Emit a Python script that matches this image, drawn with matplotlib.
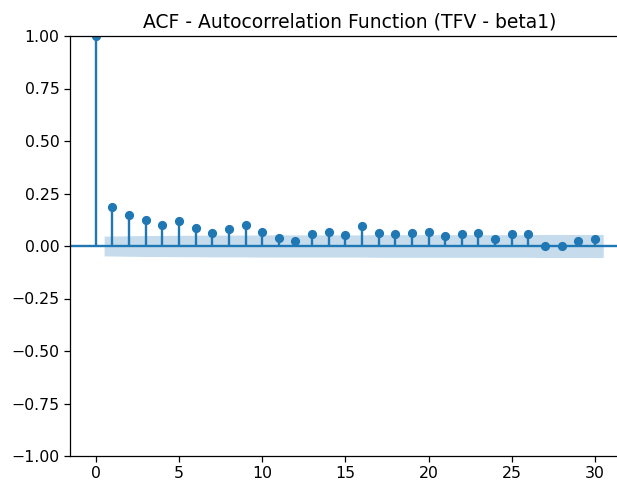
import matplotlib
matplotlib.use("Agg")
import matplotlib.pyplot as plt
import numpy as np

# autocorrelation by lag (lag 0 .. 30)
lags = np.arange(0, 31)
acf_vals = [1.000, 0.187, 0.146, 0.124, 0.101, 0.120, 0.086, 0.063, 0.082, 0.099,
            0.066, 0.038, 0.024, 0.057, 0.067, 0.054, 0.095, 0.063, 0.057, 0.063,
            0.067, 0.048, 0.057, 0.063, 0.032, 0.055, 0.057, 0.001, -0.002, 0.023,
            0.032]

# half width of the 95% confidence band for lags 1 .. 30
band = [0.047, 0.049, 0.050, 0.050, 0.051, 0.051, 0.052, 0.052, 0.052, 0.053,
        0.053, 0.053, 0.053, 0.053, 0.053, 0.053, 0.054, 0.054, 0.054, 0.054,
        0.054, 0.054, 0.054, 0.054, 0.054, 0.054, 0.055, 0.055, 0.055, 0.055]

title = "ACF - Autocorrelation Function (TFV - beta1)"

dpi = 100
fig = plt.figure(figsize=(6.17, 4.84), dpi=dpi)
# axes run a little past the right edge of the canvas
ax = fig.add_axes([70 / 617, 28 / 484, 559 / 617, 420 / 484])

color = "C0"
ax.vlines(lags, 0, acf_vals, colors=color, linewidth=1.7)
ax.plot(lags, acf_vals, "o", color=color, markersize=5.6)
ax.axhline(0, color=color, linewidth=1.7)

# band drawn from lag 0.5 to lag 30.5 like statsmodels
band_x = lags[1:].astype(float)
band_x[0] -= 0.5
band_x[-1] += 0.5
band = np.array(band)
ax.fill_between(band_x, -band, band, color=color, alpha=0.25, linewidth=0)

ax.set_xlim(-1.55, 32.05)
ax.set_ylim(-1, 1)
ax.set_yticks(np.arange(-1, 1.01, 0.25))
ax.tick_params(labelsize=11.3, length=4, width=0.9)
for s in ax.spines.values():
    s.set_linewidth(0.9)
ax.spines["right"].set_visible(False)
ax.set_title(title, fontsize=13.5)

fig.savefig("out.png", dpi=dpi)
